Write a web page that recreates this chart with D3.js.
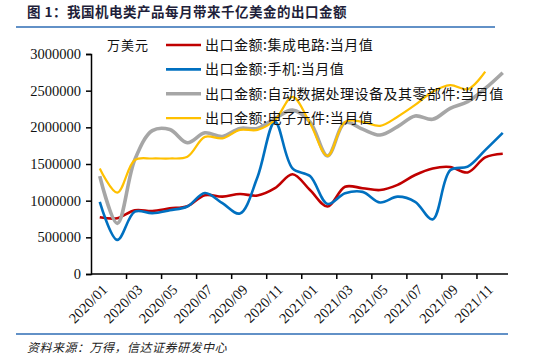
<!DOCTYPE html>
<html>
<head>
<meta charset="utf-8">
<script src="https://cdn.jsdelivr.net/npm/d3@7"></script>
<style>
  body { margin: 0; background: #fff; }
  svg { display: block; }
</style>
</head>
<body>
<div id="graphic"></div>
<script>
// months on the category axis
const months = ["2020/01","2020/02","2020/03","2020/04","2020/05","2020/06","2020/07","2020/08","2020/09","2020/10","2020/11","2020/12",
  "2021/01","2021/02","2021/03","2021/04","2021/05","2021/06","2021/07","2021/08","2021/09","2021/10","2021/11","2021/12"];
const monthLabels = ["2020/01","2020/03","2020/05","2020/07","2020/09","2020/11","2021/01","2021/03","2021/05","2021/07","2021/09","2021/11"];
const yTicks = [0, 500000, 1000000, 1500000, 2000000, 2500000, 3000000];

// export value, 10k USD per month
const chips = [775000, 760000, 870000, 860000, 895000, 925000, 1075000, 1055000, 1090000, 1070000, 1170000, 1360000,
  1145000, 920000, 1190000, 1170000, 1145000, 1215000, 1350000, 1440000, 1460000, 1385000, 1590000, 1640000];
const phones = [985000, 465000, 850000, 830000, 870000, 920000, 1105000, 965000, 825000, 1320000, 2075000, 1440000,
  1335000, 955000, 1100000, 1120000, 975000, 1055000, 985000, 745000, 1415000, 1465000, 1690000, 1925000];
const computers = [1335000, 690000, 1560000, 1955000, 1970000, 1790000, 1925000, 1875000, 1985000, 1985000, 2120000, 2235000,
  2075000, 1610000, 2065000, 1975000, 1895000, 2010000, 2155000, 2110000, 2260000, 2350000, 2530000, 2745000];
const components = [1440000, 1110000, 1555000, 1575000, 1575000, 1600000, 1870000, 1850000, 1965000, 1965000, 2100000, 2415000,
  2055000, 1610000, 2075000, 2075000, 2020000, 2145000, 2305000, 2485000, 2575000, 2520000, 2760000, null];

const seriesNames = ["出口金额:集成电路:当月值", "出口金额:手机:当月值", "出口金额:自动数据处理设备及其零部件:当月值", "出口金额:电子元件:当月值"];

const series = [
  { name: seriesNames[0], values: chips, color: "#C00000", width: 2.6 },
  { name: seriesNames[1], values: phones, color: "#0070C0", width: 2.6 },
  { name: seriesNames[2], values: computers, color: "#A6A6A6", width: 3.6 },
  { name: seriesNames[3], values: components, color: "#FFC000", width: 2.2 }
];

const W = 536, H = 361;
const plotLeft = 91, plotRight = 511.5, plotTop = 54, plotBottom = 274;

const svg = d3.select("#graphic").append("svg")
  .attr("width", W).attr("height", H);

const cjk = "'Noto Sans CJK SC', sans-serif";
const serif = "'Liberation Serif', 'Times New Roman', serif";

// title and frame lines
svg.append("text")
  .attr("x", 27).attr("y", 17)
  .attr("font-family", cjk).attr("font-size", 13.5).attr("font-weight", "bold")
  .attr("letter-spacing", 0.5)
  .attr("fill", "#1f1f3a")
  .text("图 1：我国机电类产品每月带来千亿美金的出口金额");
svg.append("line").attr("x1", 16).attr("x2", 495).attr("y1", 27).attr("y2", 27)
  .attr("stroke", "#2E6DB4").attr("stroke-width", 1.5);
svg.append("line").attr("x1", 16).attr("x2", 508).attr("y1", 334).attr("y2", 334)
  .attr("stroke", "#2E6DB4").attr("stroke-width", 1.5);
svg.append("text")
  .attr("x", 27).attr("y", 352)
  .attr("font-family", cjk).attr("font-size", 12).attr("font-style", "italic")
  .attr("letter-spacing", 0.5)
  .attr("fill", "#222")
  .text("资料来源：万得，信达证券研发中心");

// scales
const xi = d3.scaleLinear().domain([0, months.length]).range([plotLeft, plotRight]);
const x = d3.scalePoint().domain(months).range([xi(0.5), xi(months.length - 0.5)]);
const y = d3.scaleLinear().domain([0, 3000000]).range([plotBottom, plotTop]);

// y axis
const yAxis = svg.append("g")
  .attr("transform", `translate(${plotLeft},0)`)
  .call(d3.axisLeft(y).tickValues(yTicks).tickSize(5).tickPadding(5).tickFormat(d3.format("d")));
yAxis.select(".domain").attr("stroke", "#000").attr("stroke-width", 1.5);
yAxis.selectAll(".tick line").attr("stroke", "#000").attr("stroke-width", 1.5);
yAxis.selectAll("text").attr("font-family", serif).attr("font-size", 14.5).attr("fill", "#111");

// x axis: tick marks between every two months
const xAxis = svg.append("g")
  .attr("transform", `translate(0,${plotBottom})`)
  .call(d3.axisBottom(xi).tickValues(d3.range(2, months.length, 2)).tickSize(5).tickFormat(""));
xAxis.select(".domain").attr("stroke", "#000").attr("stroke-width", 1.5)
  .attr("d", `M${plotLeft},0H508`);
xAxis.selectAll(".tick line").attr("stroke", "#000").attr("stroke-width", 1.5);

svg.append("g").selectAll("text")
  .data(monthLabels)
  .join("text")
  .attr("transform", d => `translate(${x(d) + 5},${plotBottom + 13}) rotate(-45)`)
  .attr("text-anchor", "end")
  .attr("dy", "0.35em")
  .attr("font-family", serif).attr("font-size", 14.5).attr("fill", "#111")
  .text(d => d);

// unit
svg.append("text")
  .attr("x", 107).attr("y", 50)
  .attr("font-family", cjk).attr("font-size", 13).attr("fill", "#111")
  .attr("letter-spacing", 1)
  .text("万美元");

// lines
const line = d3.line()
  .defined(d => d.v != null)
  .x(d => x(d.m))
  .y(d => y(d.v))
  .curve(d3.curveCatmullRom.alpha(0.5));

svg.append("g").selectAll("path")
  .data(series)
  .join("path")
  .attr("fill", "none")
  .attr("stroke", d => d.color)
  .attr("stroke-width", d => d.width)
  .attr("stroke-linejoin", "round")
  .attr("d", d => line(d.values.map((v, i) => ({ m: months[i], v }))));

// legend
const legend = svg.append("g").selectAll("g")
  .data(series)
  .join("g")
  .attr("transform", (d, i) => `translate(166,${45 + i * 24.4})`);
legend.append("line")
  .attr("x1", 0).attr("x2", 35)
  .attr("stroke", d => d.color)
  .attr("stroke-width", d => d.width);
legend.append("text")
  .attr("x", 39).attr("y", 5)
  .attr("font-family", cjk).attr("font-size", 14).attr("fill", "#111")
  .attr("letter-spacing", 0.5)
  .text(d => d.name);
</script>
</body>
</html>
